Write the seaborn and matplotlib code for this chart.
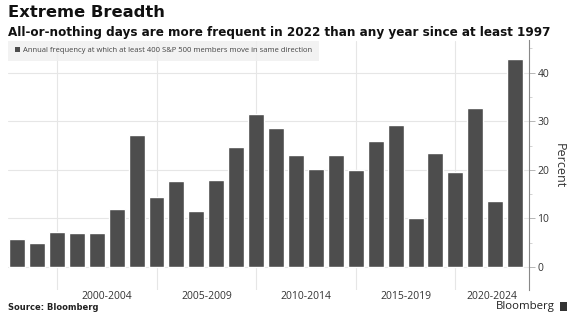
import matplotlib
matplotlib.use("Agg")
import matplotlib.pyplot as plt
from matplotlib.patches import Patch, Rectangle
import seaborn as sns
import pandas as pd

years = [str(y) for y in range(1997, 2023)]
values = [5.8, 5.0, 7.3, 7.0, 7.0, 11.9, 27.2, 14.5, 17.7, 11.6, 18.0, 24.8, 31.4,
          28.7, 23.1, 20.2, 23.0, 19.9, 26.0, 29.2, 10.0, 23.4, 19.5, 32.8, 13.5, 42.8]
period_labels = ["2000-2004", "2005-2009", "2010-2014", "2015-2019", "2020-2024"]
series_name = "Annual frequency at which at least 400 S&P 500 members move in same direction"

df = pd.DataFrame({"year": years, "value": values})

sns.set_theme(style="white")
plt.rcParams["font.family"] = ["DejaVu Sans"]

fig = plt.figure(figsize=(5.77, 3.24), dpi=100)
ax = fig.add_axes([0.014, 0.105, 0.903, 0.77])

bar_color = "#4d4d4d"
sns.barplot(data=df, x="year", y="value", color=bar_color, width=0.8,
            saturation=1, ax=ax, zorder=3)

ax.set_xlim(-0.45, 25.7)
ax.set_ylim(-4.7, 46.6)

# x axis: group labels between gridlines
ax.set_xticks([4.5, 9.5, 14.5, 19.5, 23.85])
ax.set_xticklabels(period_labels, fontsize=7.5, color="#333333", family="Open Sans")
ax.set_xticks([2, 7, 12, 17, 22], minor=True)
ax.tick_params(axis="x", which="both", length=0, pad=1)
ax.grid(axis="x", which="minor", color="#e6e6e6", linewidth=0.8, zorder=0)

# y axis on right
ax.yaxis.tick_right()
ax.yaxis.set_label_position("right")
ax.set_yticks([0, 10, 20, 30, 40])
ax.set_yticks([5, 15, 25, 35, 45], minor=True)
ax.set_yticklabels(["0", "10", "20", "30", "40"], fontsize=7.5, color="#333333",
                   family="Open Sans")
ax.tick_params(axis="y", which="major", length=4, width=0.6, color="#aaaaaa",
               right=True, left=False, pad=2)
ax.tick_params(axis="y", which="minor", length=2, width=0.6, color="#cccccc",
               right=True, left=False)
ax.grid(axis="y", which="major", color="#e6e6e6", linewidth=0.8, zorder=0)
ax.set_ylabel("Percent", rotation=270, labelpad=12, fontsize=9, color="#333333",
              family="Open Sans")
ax.set_xlabel("")

for s in ["top", "left", "bottom"]:
    ax.spines[s].set_visible(False)
ax.spines["right"].set_color("#888888")
ax.spines["right"].set_linewidth(0.8)

# legend box
handle = Patch(facecolor=bar_color, edgecolor="none")
leg = ax.legend([handle], [series_name], loc="upper left",
                bbox_to_anchor=(0.0, 1.0), bbox_transform=ax.transAxes,
                frameon=True, fancybox=False, handlelength=0.6,
                handleheight=0.6, handletextpad=0.4, borderpad=0.9,
                borderaxespad=0.0, prop={"family": "Open Sans", "size": 5.5})
leg.get_frame().set_facecolor("#efefef")
leg.get_frame().set_edgecolor("none")
leg.set_zorder(5)
for t in leg.get_texts():
    t.set_color("#444444")

# titles
fig.text(0.014, 0.96, "Extreme Breadth", fontsize=11.8, fontweight="bold",
         color="#111111", va="center", ha="left")
fig.text(0.014, 0.9, "All-or-nothing days are more frequent in 2022 than any year since at least 1997",
         fontsize=8.65, fontweight="bold", color="#111111", va="center", ha="left")

# footer
fig.text(0.014, 0.052, "Source: Bloomberg", fontsize=6.0, fontweight="bold",
         color="#222222", va="center", ha="left")
fig.text(0.962, 0.055, "Bloomberg", fontsize=8.2, color="#222222", va="center",
         ha="right", family="Open Sans")
fig.patches.append(Rectangle((0.97, 0.04), 0.012, 0.028, transform=fig.transFigure,
                             facecolor="#333333", edgecolor="none"))

fig.savefig("out.png", dpi=100)
